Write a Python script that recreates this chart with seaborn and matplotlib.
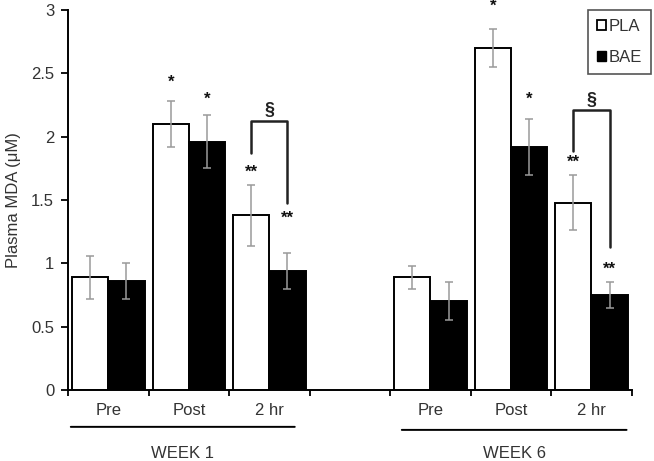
import numpy as np
import pandas as pd
import matplotlib
matplotlib.use("Agg")
import matplotlib.pyplot as plt
import seaborn as sns
from matplotlib.patches import Patch

# Data
slots = ["W1 Pre", "W1 Post", "W1 2hr", "gap", "W6 Pre", "W6 Post", "W6 2hr"]
slot_labels = ["Pre", "Post", "2 hr", "", "Pre", "Post", "2 hr"]
pla_mean = [0.89, 2.10, 1.38, 0.89, 2.70, 1.48]
bae_mean = [0.86, 1.96, 0.94, 0.70, 1.92, 0.75]
pla_err = [0.17, 0.18, 0.24, 0.09, 0.15, 0.22]
bae_err = [0.14, 0.21, 0.14, 0.15, 0.22, 0.10]
groups = ["PLA", "BAE"]

data_slots = [s for s in slots if s != "gap"]
df = pd.DataFrame({
    "slot": data_slots * 2,
    "group": ["PLA"] * 6 + ["BAE"] * 6,
    "mda": pla_mean + bae_mean,
})

sns.set_style("white")
plt.rcParams["font.family"] = ["Liberation Sans", "DejaVu Sans"]
txt = "#333333"
fs = 12

fig = plt.figure(figsize=(6.54, 4.61), dpi=100)
ax = fig.add_axes([0.104, 0.154, 0.862, 0.824])

bar_w = 0.9
sns.barplot(data=df, x="slot", y="mda", hue="group", order=slots,
            hue_order=groups, palette={"PLA": "white", "BAE": "black"},
            width=bar_w, edgecolor="black", linewidth=1.4, errorbar=None,
            legend=False, ax=ax)

# error bars
off = bar_w / 4
pos = [slots.index(s) for s in data_slots]
ax.errorbar(np.array(pos) - off, pla_mean, yerr=pla_err, fmt="none",
            ecolor="#9a9a9a", elinewidth=1.1, capsize=3, capthick=1.1)
ax.errorbar(np.array(pos) + off, bae_mean, yerr=bae_err, fmt="none",
            ecolor="#9a9a9a", elinewidth=1.1, capsize=3, capthick=1.1)

# significance marks
marks = [
    (1 - off, 2.43, "*"), (1 + off, 2.30, "*"),
    (2 - off, 1.72, "**"), (2 + off, 1.36, "**"),
    (5 - off, 3.03, "*"), (5 + off, 2.30, "*"),
    (6 - off, 1.80, "**"), (6 + off, 0.955, "**"),
]
for x, y, s in marks:
    ax.text(x, y, s, ha="center", va="center", fontsize=12, color="#111111",
            fontweight="bold", clip_on=False)

# brackets
for c, top, lleg, rleg in [(2, 2.125, 1.87, 1.48), (6, 2.21, 1.89, 1.13)]:
    ax.plot([c - off, c - off, c + off, c + off], [lleg, top, top, rleg],
            color="#222222", lw=1.8, clip_on=False)
    ax.text(c, top + 0.08, "§", ha="center", va="center", fontsize=13,
            fontweight="bold", color="#222222")

ax.set_ylim(0, 3)
ax.set_xlim(-0.5, 6.5)
ax.set_yticks(np.arange(0, 3.01, 0.5))
ax.set_yticklabels(["0", "0.5", "1", "1.5", "2", "2.5", "3"])
ax.set_xticks(np.arange(-0.5, 7, 1))
ax.set_xticklabels([])
ax.set_xticks(range(7), minor=True)
ax.set_xticklabels(slot_labels, minor=True)
ax.tick_params(axis="x", which="major", direction="out", length=4,
               width=1.3, color="black", bottom=True)
ax.tick_params(axis="x", which="minor", length=0, pad=9, labelsize=fs,
               labelcolor=txt)
ax.tick_params(axis="y", direction="out", length=5, width=1.3, color="black",
               left=True, labelsize=fs, labelcolor=txt, pad=5)
ax.set_xlabel("")
ax.set_ylabel("Plasma MDA (μM)", fontsize=fs, color=txt, labelpad=7)
sns.despine(ax=ax)
for sp in ["left", "bottom"]:
    ax.spines[sp].set_color("black")
    ax.spines[sp].set_linewidth(1.4)

# week group lines and labels
for x0, x1, ly, lab in [(-0.5, 2.35, -0.097, "WEEK 1"),
                        (3.61, 6.47, -0.105, "WEEK 6")]:
    ax.annotate("", xy=(x0, ly), xytext=(x1, ly),
                xycoords=("data", "axes fraction"),
                arrowprops=dict(arrowstyle="-", color="black", lw=1.4))
    ax.text((x0 + x1) / 2, -0.168, lab, ha="center", va="center",
            fontsize=fs, color=txt, transform=ax.get_xaxis_transform())

handles = [Patch(facecolor="white", edgecolor="black", linewidth=1.3,
                 label="PLA"),
           Patch(facecolor="black", edgecolor="black", label="BAE")]
leg = fig.legend(handles=handles, loc="upper right",
                 bbox_to_anchor=(651 / 654, 1 - 10 / 461), fontsize=fs,
                 handlelength=0.55, handleheight=0.55, handletextpad=0.15,
                 labelspacing=0.95, borderpad=0.55, borderaxespad=0,
                 fancybox=False, framealpha=1, edgecolor="#555555")
leg.get_frame().set_linewidth(1.2)
for t in leg.get_texts():
    t.set_color(txt)

fig.savefig("out.png", dpi=100)
